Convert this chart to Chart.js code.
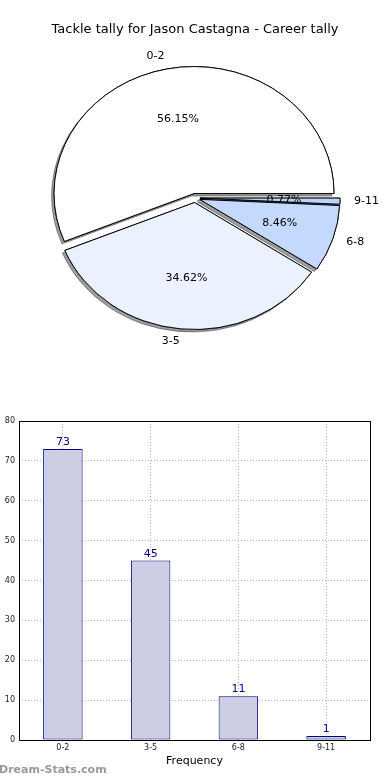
<!DOCTYPE html>
<html>
<head>
<meta charset="utf-8">
<script src="https://cdn.jsdelivr.net/npm/chart.js@4.4.1/dist/chart.umd.min.js"></script>
<style>
    body { margin: 0; background: #fff; }
    #wrap { position: relative; width: 390px; height: 780px; overflow: hidden; }
    #pieChart { position: absolute; left: 0; top: 0; }
    #barChart { position: absolute; left: 0; top: 400px; }
    #brand { position: absolute; left: -1px; top: 763px; font: bold 11px "DejaVu Sans"; color: #9a9a9a; }
</style>
</head>
<body>
<div id="wrap">
    <canvas id="pieChart" width="390" height="390"></canvas>
    <canvas id="barChart" width="390" height="380"></canvas>
    <div id="brand">Dream-Stats.com</div>
</div>
<script>
var chartTitle = 'Tackle tally for Jason Castagna - Career tally';
var categories = ['0-2', '3-5', '6-8', '9-11'];
var tackles = [73, 45, 11, 1];
var yTicks = [0, 10, 20, 30, 40, 50, 60, 70, 80];
var axisTitle = 'Frequency';

var FONT = 'DejaVu Sans';
var SY = 127 / 140;      // pie is squashed vertically
var EXPLODE = 5;
var NAVY = '#00007f';

window.onload = function () {
    var total = tackles.reduce(function (a, b) { return a + b; }, 0);
    var pct = tackles.map(function (v) { return (v / total * 100).toFixed(2) + '%'; });

    // chart.js goes clockwise, the original goes counter clockwise -> reverse
    var pieLabels = categories.slice().reverse();
    var pieValues = tackles.slice().reverse();
    var piePct = pct.slice().reverse();
    var pieColors = ['#ffffff', '#ebf1fe', '#c5d9fe', '#bcd2fb'].reverse();

    var pieDraw = {
        id: 'pieDraw',
        beforeDatasetsDraw: function (chart) {
            var ctx = chart.ctx;
            var arcs = chart.getDatasetMeta(0).data;
            var cx = arcs[0].x, cy = arcs[0].y;
            // first pass only leaves the shadows, second pass paints wedges
            for (var pass = 0; pass < 2; pass++) {
                ctx.save();
                if (pass == 0) {
                    ctx.shadowColor = 'rgba(0,0,0,0.38)';
                    ctx.shadowOffsetX = -2.5;
                    ctx.shadowOffsetY = 2.5;
                }
                ctx.translate(cx, cy);
                ctx.scale(1, SY);
                ctx.translate(-cx, -cy);
                arcs.forEach(function (arc) {
                    var mid = (arc.startAngle + arc.endAngle) / 2;
                    ctx.save();
                    ctx.translate(Math.cos(mid) * EXPLODE, Math.sin(mid) * EXPLODE);
                    arc.draw(ctx);
                    ctx.restore();
                });
                ctx.restore();
            }
            return false;
        },
        afterDraw: function (chart) {
            var ctx = chart.ctx;
            var arcs = chart.getDatasetMeta(0).data;
            ctx.save();
            ctx.font = '11px "' + FONT + '"';
            ctx.fillStyle = '#000';
            ctx.textBaseline = 'middle';
            arcs.forEach(function (arc, i) {
                var mid = (arc.startAngle + arc.endAngle) / 2;
                var c = Math.cos(mid), s = Math.sin(mid);
                var d = EXPLODE + 1.1 * arc.outerRadius;
                ctx.textAlign = c > 0 ? 'left' : 'right';
                ctx.fillText(pieLabels[i], arc.x + c * d, arc.y + s * d * SY);
                d = EXPLODE + 0.6 * arc.outerRadius;
                ctx.textAlign = 'center';
                ctx.fillText(piePct[i], arc.x + c * d, arc.y + s * d * SY);
            });
            ctx.restore();
        }
    };

    new Chart(document.getElementById('pieChart'), {
        type: 'pie',
        data: {
            labels: pieLabels,
            datasets: [{
                data: pieValues,
                backgroundColor: pieColors,
                borderColor: '#000',
                borderWidth: 1,
                borderJoinStyle: 'miter'
            }]
        },
        options: {
            responsive: false,
            animation: false,
            rotation: 90,
            radius: 140,
            layout: { padding: { top: 0, left: 0, right: 0, bottom: 31.8 } },
            plugins: {
                legend: { display: false },
                tooltip: { enabled: false },
                title: {
                    display: true,
                    text: chartTitle,
                    color: '#000',
                    font: { family: FONT, size: 13, weight: 'normal' },
                    padding: { top: 22.2, bottom: 0 }
                }
            }
        },
        plugins: [pieDraw]
    });

    var barExtras = {
        id: 'barExtras',
        afterDraw: function (chart) {
            var ctx = chart.ctx;
            var a = chart.chartArea;
            ctx.save();
            ctx.strokeStyle = '#000';
            ctx.lineWidth = 1;
            ctx.strokeRect(Math.round(a.left) + 0.5, Math.round(a.top) + 0.5,
                Math.round(a.right - a.left), Math.round(a.bottom - a.top));
            ctx.font = '11px "' + FONT + '"';
            ctx.fillStyle = NAVY;
            ctx.textAlign = 'center';
            ctx.textBaseline = 'alphabetic';
            chart.getDatasetMeta(0).data.forEach(function (bar, i) {
                ctx.fillText(String(tackles[i]), bar.x, bar.y - 4);
            });
            ctx.restore();
        }
    };

    var tickFont = { family: FONT, size: 8 };
    new Chart(document.getElementById('barChart'), {
        type: 'bar',
        data: {
            labels: categories,
            datasets: [{
                data: tackles,
                backgroundColor: '#cdcde4',
                borderColor: NAVY,
                borderWidth: 1,
                borderSkipped: false,
                barPercentage: 0.45,
                categoryPercentage: 1
            }]
        },
        options: {
            responsive: false,
            animation: false,
            layout: { padding: { top: 21, right: 20, left: 0, bottom: 0 } },
            plugins: { legend: { display: false }, tooltip: { enabled: false } },
            scales: {
                x: {
                    z: 1,
                    grid: { offset: false, color: '#bbbbbb', drawTicks: false },
                    border: { display: false, dash: [1, 2] },
                    ticks: { padding: 3, color: '#222', font: tickFont, maxRotation: 0 },
                    title: {
                        display: true,
                        text: axisTitle,
                        color: '#000',
                        font: { family: FONT, size: 11 },
                        padding: { top: 0, bottom: 12.4 }
                    },
                    afterFit: function (scale) { scale.height = 40; }
                },
                y: {
                    z: 1,
                    min: yTicks[0],
                    max: yTicks[yTicks.length - 1],
                    grid: { color: '#bbbbbb', drawTicks: false },
                    border: { display: false, dash: [1, 2] },
                    ticks: { stepSize: yTicks[1] - yTicks[0], padding: 4, color: '#222', font: tickFont },
                    afterFit: function (scale) { scale.width = 19; }
                }
            }
        },
        plugins: [barExtras]
    });
};
</script>
</body>
</html>
